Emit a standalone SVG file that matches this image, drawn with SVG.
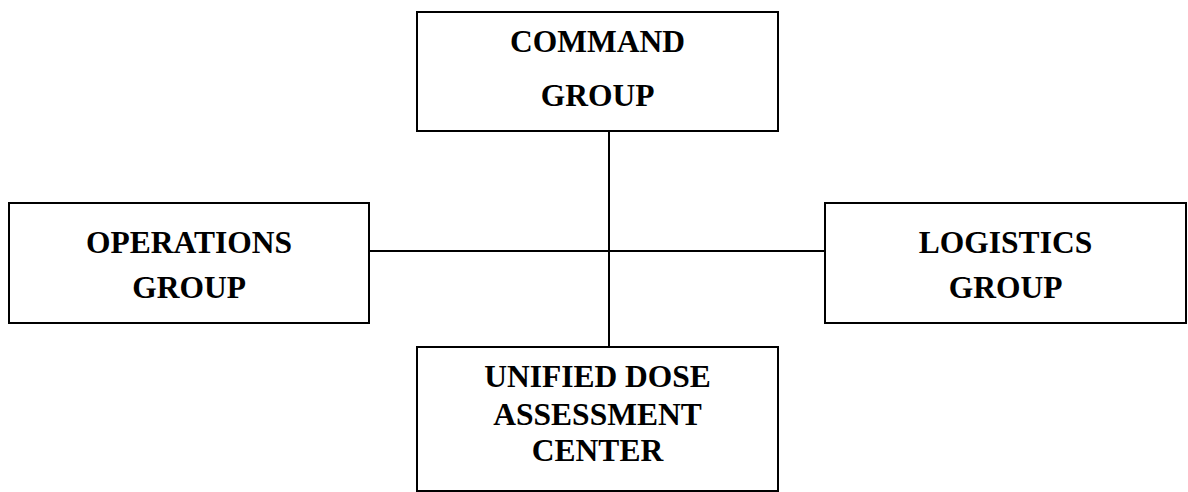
<svg xmlns="http://www.w3.org/2000/svg" width="1188" height="492" viewBox="0 0 1188 492">
<style>
.box{fill:#fff;stroke:#000;stroke-width:2}
.t{font-family:"Liberation Serif","Times New Roman",serif;font-weight:bold;font-size:31.5px;text-anchor:middle;fill:#000}
.c{stroke:#000;stroke-width:2;fill:none}
</style>
<rect width="1188" height="492" fill="#fff"/>
<g id="connectors">
<line class="c" x1="609" y1="131" x2="609" y2="347"/>
<line class="c" x1="369" y1="251" x2="825" y2="251"/>
</g>
<g id="command">
<rect class="box" x="417" y="12" width="361" height="119"/>
<text class="t" x="597.5" y="52">COMMAND</text>
<text class="t" x="597.5" y="106">GROUP</text>
</g>
<g id="operations">
<rect class="box" x="9" y="203" width="360" height="120"/>
<text class="t" x="189" y="253">OPERATIONS</text>
<text class="t" x="189" y="298">GROUP</text>
</g>
<g id="logistics">
<rect class="box" x="825" y="203" width="361" height="120"/>
<text class="t" x="1005.5" y="253">LOGISTICS</text>
<text class="t" x="1005.5" y="298">GROUP</text>
</g>
<g id="udac">
<rect class="box" x="417" y="347" width="361" height="144"/>
<text class="t" x="597.5" y="387">UNIFIED DOSE</text>
<text class="t" x="597.5" y="425">ASSESSMENT</text>
<text class="t" x="597.5" y="461">CENTER</text>
</g>
</svg>
